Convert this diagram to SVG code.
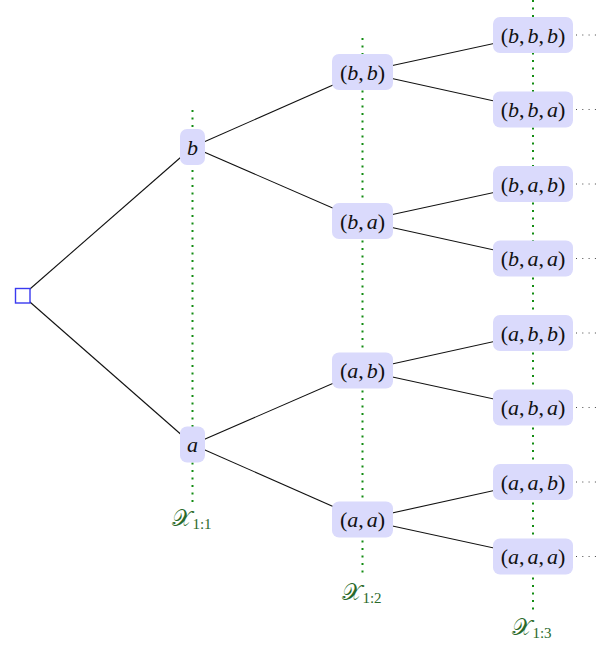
<svg xmlns="http://www.w3.org/2000/svg" width="606" height="648" viewBox="0 0 606 648">
<defs>
<style>
.bg{fill:#ffffff}
.guide{stroke:#128c12;stroke-width:2;stroke-dasharray:2 5.5;fill:none}
.edge{stroke:#111111;stroke-width:1.1;fill:none}
.tail{stroke:#444444;stroke-width:1;stroke-dasharray:1 5.3;fill:none}
.box{fill:#dadafc;stroke:none}
.root{fill:#ffffff;stroke:#3a3af0;stroke-width:1.4}
.t{font-family:"Liberation Serif","Times New Roman",serif;font-size:22px;fill:#111111;text-anchor:middle}
.i{font-style:italic}
.lab{font-family:"DejaVu Serif","DejaVu Sans",serif;font-size:23px;fill:#2a6a2a;text-anchor:middle}
.sub{font-family:"Liberation Serif",serif;font-size:15px;font-style:normal}
</style>
</defs>
<rect class="bg" x="0" y="0" width="606" height="648"/>
<g id="guides">
<line class="guide" x1="192.5" y1="110" x2="192.5" y2="503"/>
<line class="guide" x1="362.5" y1="38" x2="362.5" y2="578"/>
<line class="guide" x1="533" y1="0" x2="533" y2="613"/>
<text class="lab" x="192" y="526">𝒳<tspan class="sub" dy="3">1:1</tspan></text>
<text class="lab" x="362" y="600">𝒳<tspan class="sub" dy="3">1:2</tspan></text>
<text class="lab" x="532" y="635">𝒳<tspan class="sub" dy="3">1:3</tspan></text>
</g>
<g id="connectors">
<line class="edge" x1="22.5" y1="295.5" x2="192.5" y2="147"/>
<line class="edge" x1="22.5" y1="295.5" x2="192.5" y2="444.5"/>
<line class="edge" x1="192.5" y1="147" x2="362.5" y2="72"/>
<line class="edge" x1="192.5" y1="147" x2="362.5" y2="221"/>
<line class="edge" x1="192.5" y1="444.5" x2="362.5" y2="370.5"/>
<line class="edge" x1="192.5" y1="444.5" x2="362.5" y2="519.5"/>
<line class="edge" x1="362.5" y1="72" x2="533" y2="35"/>
<line class="edge" x1="362.5" y1="72" x2="533" y2="109.5"/>
<line class="edge" x1="362.5" y1="221" x2="533" y2="184"/>
<line class="edge" x1="362.5" y1="221" x2="533" y2="258.5"/>
<line class="edge" x1="362.5" y1="370.5" x2="533" y2="333"/>
<line class="edge" x1="362.5" y1="370.5" x2="533" y2="407.5"/>
<line class="edge" x1="362.5" y1="519.5" x2="533" y2="482"/>
<line class="edge" x1="362.5" y1="519.5" x2="533" y2="556.5"/>
<line class="tail" x1="576" y1="35" x2="596" y2="35"/>
<line class="tail" x1="576" y1="109.5" x2="596" y2="109.5"/>
<line class="tail" x1="576" y1="184" x2="596" y2="184"/>
<line class="tail" x1="576" y1="258.5" x2="596" y2="258.5"/>
<line class="tail" x1="576" y1="333" x2="596" y2="333"/>
<line class="tail" x1="576" y1="407.5" x2="596" y2="407.5"/>
<line class="tail" x1="576" y1="482" x2="596" y2="482"/>
<line class="tail" x1="576" y1="556.5" x2="596" y2="556.5"/>
</g>
<g id="root"><rect class="root" x="15.5" y="288.5" width="14.5" height="14.5"/></g>
<g id="n-b"><rect class="box" x="180" y="129" width="25" height="36" rx="7"/><text class="t" x="192.5" y="154.5"><tspan class="i">b</tspan></text></g>
<g id="n-a"><rect class="box" x="180" y="426.5" width="25" height="36" rx="7"/><text class="t" x="192.5" y="452"><tspan class="i">a</tspan></text></g>
<g id="n-bb"><rect class="box" x="332" y="54" width="61" height="36" rx="7"/><text class="t" x="362.5" y="79.5">(<tspan class="i">b</tspan>,<tspan class="i" dx="3">b</tspan>)</text></g>
<g id="n-ba"><rect class="box" x="332" y="203" width="61" height="36" rx="7"/><text class="t" x="362.5" y="228.5">(<tspan class="i">b</tspan>,<tspan class="i" dx="3">a</tspan>)</text></g>
<g id="n-ab"><rect class="box" x="332" y="352.5" width="61" height="36" rx="7"/><text class="t" x="362.5" y="378">(<tspan class="i">a</tspan>,<tspan class="i" dx="3">b</tspan>)</text></g>
<g id="n-aa"><rect class="box" x="332" y="501.5" width="61" height="36" rx="7"/><text class="t" x="362.5" y="527">(<tspan class="i">a</tspan>,<tspan class="i" dx="3">a</tspan>)</text></g>
<g id="n-bbb"><rect class="box" x="493" y="17" width="80" height="36" rx="7"/><text class="t" x="533" y="42.5">(<tspan class="i">b</tspan>,<tspan class="i" dx="3">b</tspan>,<tspan class="i" dx="3">b</tspan>)</text></g>
<g id="n-bba"><rect class="box" x="493" y="91.5" width="80" height="36" rx="7"/><text class="t" x="533" y="117">(<tspan class="i">b</tspan>,<tspan class="i" dx="3">b</tspan>,<tspan class="i" dx="3">a</tspan>)</text></g>
<g id="n-bab"><rect class="box" x="493" y="166" width="80" height="36" rx="7"/><text class="t" x="533" y="191.5">(<tspan class="i">b</tspan>,<tspan class="i" dx="3">a</tspan>,<tspan class="i" dx="3">b</tspan>)</text></g>
<g id="n-baa"><rect class="box" x="493" y="240.5" width="80" height="36" rx="7"/><text class="t" x="533" y="266">(<tspan class="i">b</tspan>,<tspan class="i" dx="3">a</tspan>,<tspan class="i" dx="3">a</tspan>)</text></g>
<g id="n-abb"><rect class="box" x="493" y="315" width="80" height="36" rx="7"/><text class="t" x="533" y="340.5">(<tspan class="i">a</tspan>,<tspan class="i" dx="3">b</tspan>,<tspan class="i" dx="3">b</tspan>)</text></g>
<g id="n-aba"><rect class="box" x="493" y="389.5" width="80" height="36" rx="7"/><text class="t" x="533" y="415">(<tspan class="i">a</tspan>,<tspan class="i" dx="3">b</tspan>,<tspan class="i" dx="3">a</tspan>)</text></g>
<g id="n-aab"><rect class="box" x="493" y="464" width="80" height="36" rx="7"/><text class="t" x="533" y="489.5">(<tspan class="i">a</tspan>,<tspan class="i" dx="3">a</tspan>,<tspan class="i" dx="3">b</tspan>)</text></g>
<g id="n-aaa"><rect class="box" x="493" y="538.5" width="80" height="36" rx="7"/><text class="t" x="533" y="564">(<tspan class="i">a</tspan>,<tspan class="i" dx="3">a</tspan>,<tspan class="i" dx="3">a</tspan>)</text></g>
</svg>
